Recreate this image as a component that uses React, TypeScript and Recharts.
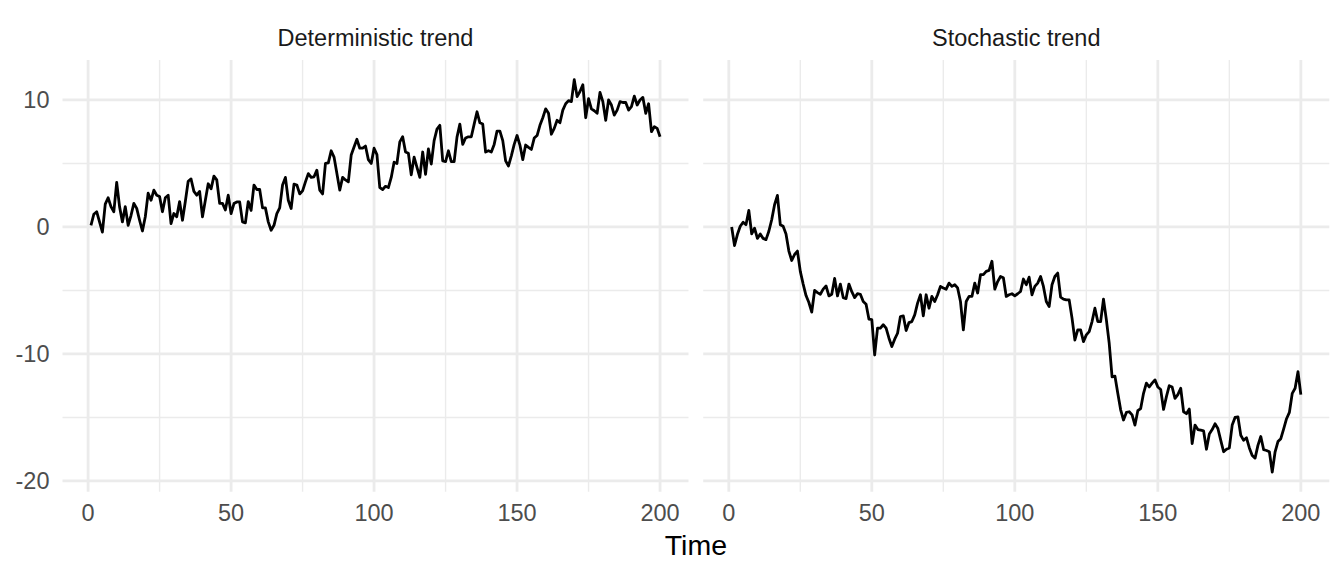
import { LineChart, Line, XAxis, YAxis, CartesianGrid } from "recharts";

// time index 1..200
const time = Array.from({ length: 200 }, (_, i) => i + 1);

// values, 10 per row
const deterministic = [
  0.13, 1.0, 1.2, 0.4, -0.4, 1.8, 2.3, 1.6, 1.2, 3.5,
  1.6, 0.4, 1.6, 0.13, 0.9, 1.86, 1.46, 0.53, -0.32, 0.8,
  2.66, 2.1, 2.9, 2.5, 2.4, 1.2, 2.3, 2.5, 0.27, 1.06,
  0.8, 2.0, 0.53, 2.0, 3.6, 3.78, 2.8, 2.5, 2.8, 0.8,
  2.1, 3.4, 3.0, 4.0, 3.7, 1.86, 1.86, 1.33, 2.5, 1.05,
  1.84, 1.97, 1.97, 0.4, 0.32, 2.0, 1.3, 3.3, 2.95, 2.95,
  1.5, 1.5, 0.4, -0.26, 0.13, 1.05, 1.5, 3.3, 3.9, 2.1,
  1.45, 3.37, 3.3, 2.6, 2.84, 3.55, 4.2, 3.9, 3.95, 4.47,
  2.9, 2.6, 5.0, 5.05, 6.0, 5.5, 4.2, 2.9, 3.9, 3.7,
  3.55, 5.66, 6.3, 6.9, 6.2, 6.2, 6.37, 5.3, 5.0, 6.2,
  5.7, 3.1, 2.95, 3.2, 3.1, 3.9, 5.1, 5.0, 6.7, 7.1,
  5.9, 5.8, 4.1, 5.5, 4.7, 3.9, 5.9, 4.15, 6.14, 4.95,
  6.8, 7.7, 8.0, 5.2, 5.15, 6.0, 5.15, 5.15, 7.07, 8.1,
  6.5, 7.0, 7.1, 7.1, 8.1, 9.07, 8.2, 8.1, 5.9, 6.0,
  5.9, 6.5, 7.55, 7.55, 6.8, 5.2, 4.8, 5.6, 6.5, 7.2,
  6.45, 5.3, 6.45, 6.26, 6.1, 7.0, 7.2, 8.0, 8.6, 9.3,
  8.95, 7.3, 7.76, 8.4, 8.2, 9.2, 9.7, 9.95, 9.87, 11.6,
  10.26, 10.66, 11.2, 8.6, 10.1, 9.3, 9.15, 8.95, 10.6, 9.87,
  8.4, 10.0, 9.6, 8.8, 9.2, 9.87, 9.8, 9.8, 9.2, 9.47,
  10.3, 9.6, 10.0, 10.2, 8.95, 9.7, 7.5, 7.9, 7.76, 7.1,
];

const stochastic = [
  0.0, -1.46, -0.6, 0.05, 0.37, 0.18, 1.3, -0.55, -0.1, -0.9,
  -0.55, -0.9, -1.0, -0.34, 0.57, 1.75, 2.48, 0.18, 0.05, -0.55,
  -1.9, -2.64, -2.17, -1.9, -3.5, -4.5, -5.4, -5.95, -6.7, -5.0,
  -5.17, -5.3, -4.9, -4.65, -5.43, -5.3, -4.05, -5.43, -4.5, -5.56,
  -5.64, -4.5, -5.1, -5.56, -5.25, -5.3, -5.87, -6.08, -7.26, -7.3,
  -10.08, -7.97, -7.97, -7.7, -7.97, -8.76, -9.42, -8.84, -8.37, -7.05,
  -7.0, -8.16, -7.53, -7.45, -6.92, -6.0, -5.34, -7.0, -5.34, -6.4,
  -5.47, -5.87, -5.34, -4.68, -4.8, -4.9, -4.42, -4.68, -4.55, -4.8,
  -5.87, -8.1, -5.87, -5.47, -5.47, -4.42, -5.2, -3.76, -3.76, -3.5,
  -3.42, -2.7, -4.9, -4.3, -3.9, -4.0, -5.47, -5.34, -5.26, -5.42,
  -5.26, -5.08, -4.1, -4.55, -3.95, -5.34, -4.68, -4.42, -3.9, -4.68,
  -5.87, -6.26, -4.55, -3.9, -3.63, -5.53, -5.68, -5.74, -5.74, -7.18,
  -8.9, -8.1, -8.1, -9.03, -8.5, -8.24, -7.45, -6.4, -7.45, -7.45,
  -5.68, -7.3, -9.16, -11.8, -11.74, -13.1, -14.4, -15.2, -14.6, -14.55,
  -14.8, -15.6, -14.47, -14.3, -13.1, -12.3, -12.6, -12.3, -12.04, -12.6,
  -12.8, -14.37, -13.36, -12.5, -12.6, -13.5, -13.2, -12.7, -14.55, -14.7,
  -14.34, -17.06, -15.6, -15.95, -16.0, -16.06, -17.5, -16.3, -15.95, -15.5,
  -15.87, -16.8, -17.7, -17.5, -17.4, -15.6, -15.0, -14.95, -16.4, -16.8,
  -16.6, -17.4, -18.0, -18.2, -17.2, -16.5, -17.54, -17.6, -17.7, -19.3,
  -17.7, -16.9, -16.67, -15.9, -15.1, -14.6, -13.1, -12.7, -11.4, -13.2,
];

const xMajor = [0, 50, 100, 150, 200];
const xMinor = [25, 75, 125, 175];
const yMajor = [-20, -10, 0, 10];
const yMinor = [-15, -5, 5];
const panelTitles = ["Deterministic trend", "Stochastic trend"];
const xTitle = "Time";

const FONT = '"Liberation Sans", Arial, Helvetica, sans-serif';
const GRID = "#EBEBEB";
const W = 1344;
const H = 576;

// ggplot-style 5% expansion, y shared between facets
const allY = [...deterministic, ...stochastic];
const yLo = Math.min(...allY);
const yHi = Math.max(...allY);
const yPad = (yHi - yLo) * 0.05;
const yDomain: [number, number] = [yLo - yPad, yHi + yPad];
const xPad = (time[time.length - 1] - time[0]) * 0.05;
const xDomain: [number, number] = [time[0] - xPad, time[time.length - 1] + xPad];

const PLOT_TOP = 60;
const PLOT_BOTTOM = 491.7;

type PanelProps = {
  values: number[];
  left: number;
  width: number;
  marginLeft: number;
  marginRight: number;
  showY: boolean;
};

function Panel({ values, left, width, marginLeft, marginRight, showY }: PanelProps) {
  const data = time.map((t, i) => ({ t, v: values[i] }));
  return (
    <div style={{ position: "absolute", left, top: 0 }}>
      <LineChart
        width={width}
        height={H}
        data={data}
        margin={{ top: PLOT_TOP, right: marginRight, bottom: 0, left: marginLeft }}
        style={{ fontFamily: FONT }}
      >
        <CartesianGrid
          stroke={GRID}
          strokeWidth={1.4}
          horizontalValues={yMinor}
          verticalValues={xMinor}
        />
        <CartesianGrid
          stroke={GRID}
          strokeWidth={2.8}
          horizontalValues={yMajor}
          verticalValues={xMajor}
        />
        <XAxis
          type="number"
          dataKey="t"
          domain={xDomain}
          ticks={xMajor}
          allowDataOverflow
          axisLine={false}
          tickLine={false}
          tickSize={0}
          tickMargin={13}
          height={H - PLOT_BOTTOM}
          tick={{ fill: "#4D4D4D", fontSize: 23.5, fontFamily: FONT }}
        />
        <YAxis
          type="number"
          domain={yDomain}
          ticks={yMajor}
          allowDataOverflow
          hide={!showY}
          width={50}
          axisLine={false}
          tickLine={false}
          tickSize={0}
          tickMargin={13}
          tick={{ fill: "#4D4D4D", fontSize: 23.5, fontFamily: FONT }}
        />
        <Line
          type="linear"
          dataKey="v"
          stroke="#000000"
          strokeWidth={2.8}
          strokeLinejoin="round"
          dot={false}
          activeDot={false}
          isAnimationActive={false}
        />
      </LineChart>
    </div>
  );
}

export default function App() {
  // panel extents in page pixels
  const leftPlot = [62.5, 688.5];
  const rightPlot = [703.2, 1329.3];
  return (
    <div
      style={{
        position: "absolute",
        left: 0,
        top: 0,
        width: W,
        height: H,
        background: "#ffffff",
        fontFamily: FONT,
        overflow: "hidden",
      }}
    >
      <Panel
        values={deterministic}
        left={0}
        width={700}
        marginLeft={leftPlot[0] - 50}
        marginRight={700 - leftPlot[1]}
        showY
      />
      <Panel
        values={stochastic}
        left={690}
        width={W - 690}
        marginLeft={rightPlot[0] - 690}
        marginRight={W - rightPlot[1]}
        showY={false}
      />
      <svg
        width={W}
        height={H}
        style={{ position: "absolute", left: 0, top: 0, pointerEvents: "none" }}
      >
        <text
          x={(leftPlot[0] + leftPlot[1]) / 2}
          y={46}
          textAnchor="middle"
          fill="#1A1A1A"
          fontSize={23.5}
          fontFamily={FONT}
        >
          {panelTitles[0]}
        </text>
        <text
          x={(rightPlot[0] + rightPlot[1]) / 2}
          y={46}
          textAnchor="middle"
          fill="#1A1A1A"
          fontSize={23.5}
          fontFamily={FONT}
        >
          {panelTitles[1]}
        </text>
        <text
          x={(leftPlot[0] + rightPlot[1]) / 2}
          y={555}
          textAnchor="middle"
          fill="#000000"
          fontSize={28.5}
          fontFamily={FONT}
        >
          {xTitle}
        </text>
      </svg>
    </div>
  );
}
